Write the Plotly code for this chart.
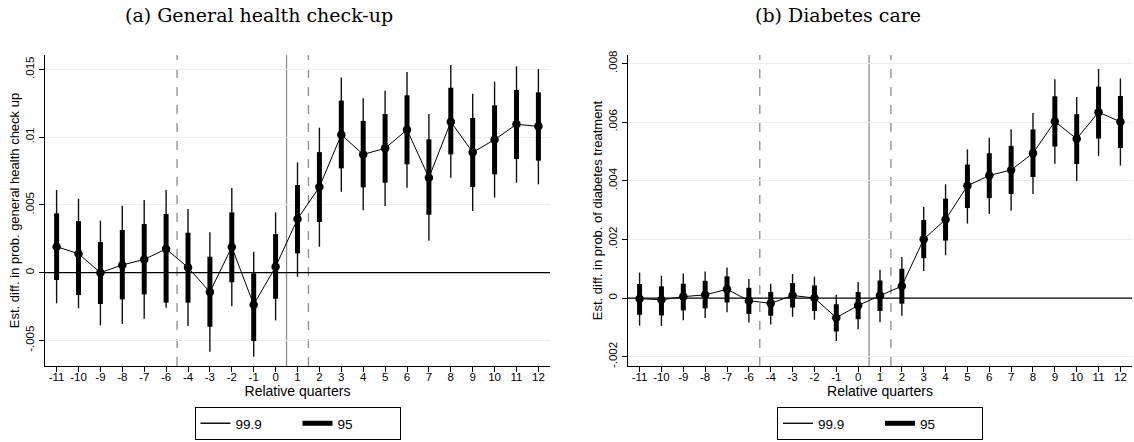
import plotly.graph_objects as go

# ---------------- data ----------------
quarters = [-11, -10, -9, -8, -7, -6, -4, -3, -2, -1, 0, 1, 2, 3, 4, 5, 6, 7, 8, 9, 10, 11, 12]
quarter_labels = [str(q) for q in quarters]

# (a) General health check-up
a_est = [0.00192, 0.00140, 0.00000, 0.00057, 0.00098, 0.00175, 0.00039, -0.00143, 0.00189, -0.00236, 0.00044,
         0.00396, 0.00632, 0.01018, 0.00873, 0.00918, 0.01055, 0.00701, 0.01114, 0.00888, 0.00982, 0.01095, 0.01080]
a_lo95 = [-0.00054, -0.00165, -0.00231, -0.00197, -0.00160, -0.00221, -0.00221, -0.00399, -0.00071, -0.00504, -0.00192,
          0.00143, 0.00374, 0.00770, 0.00630, 0.00664, 0.00800, 0.00428, 0.00873, 0.00632, 0.00726, 0.00839, 0.00827]
a_hi95 = [0.00438, 0.00381, 0.00226, 0.00315, 0.00359, 0.00433, 0.00295, 0.00118, 0.00445, -0.00005, 0.00285,
          0.00647, 0.00890, 0.01270, 0.01120, 0.01171, 0.01309, 0.00984, 0.01365, 0.01141, 0.01235, 0.01348, 0.01331]
a_lo999 = [-0.00226, -0.00263, -0.00389, -0.00379, -0.00340, -0.00258, -0.00394, -0.00583, -0.00248, -0.00620, -0.00352,
           -0.00030, 0.00192, 0.00598, 0.00460, 0.00492, 0.00627, 0.00236, 0.00701, 0.00455, 0.00554, 0.00664, 0.00652]
a_hi999 = [0.00610, 0.00546, 0.00384, 0.00494, 0.00536, 0.00610, 0.00470, 0.00298, 0.00625, 0.00155, 0.00445,
           0.00814, 0.01070, 0.01440, 0.01287, 0.01343, 0.01481, 0.01171, 0.01533, 0.01321, 0.01410, 0.01523, 0.01503]

# (b) Diabetes care
b_est = [-0.00002, -0.00006, 0.00005, 0.00011, 0.00030, -0.00009, -0.00018, 0.00009, 0.00000, -0.00067, -0.00025,
         0.00009, 0.00041, 0.00201, 0.00268, 0.00383, 0.00418, 0.00437, 0.00494, 0.00602, 0.00543, 0.00634, 0.00601]
b_lo95 = [-0.00057, -0.00059, -0.00042, -0.00035, -0.00015, -0.00054, -0.00060, -0.00032, -0.00044, -0.00114, -0.00072,
          -0.00044, -0.00019, 0.00136, 0.00196, 0.00307, 0.00341, 0.00355, 0.00413, 0.00517, 0.00457, 0.00544, 0.00512]
b_hi95 = [0.00048, 0.00040, 0.00049, 0.00059, 0.00074, 0.00035, 0.00021, 0.00051, 0.00043, -0.00021, 0.00021,
          0.00060, 0.00100, 0.00266, 0.00339, 0.00455, 0.00494, 0.00519, 0.00575, 0.00688, 0.00627, 0.00721, 0.00689]
b_lo999 = [-0.00094, -0.00095, -0.00076, -0.00068, -0.00048, -0.00083, -0.00090, -0.00064, -0.00074, -0.00146, -0.00106,
           -0.00082, -0.00060, 0.00092, 0.00146, 0.00254, 0.00287, 0.00298, 0.00355, 0.00458, 0.00399, 0.00485, 0.00452]
b_hi999 = [0.00087, 0.00076, 0.00084, 0.00091, 0.00104, 0.00065, 0.00049, 0.00082, 0.00073, 0.00011, 0.00055,
           0.00097, 0.00140, 0.00311, 0.00388, 0.00507, 0.00547, 0.00576, 0.00631, 0.00746, 0.00686, 0.00781, 0.00749]

a_yticks = [-0.005, 0, 0.005, 0.01, 0.015]
a_yticktext = ["-.005", "0", ".005", ".01", ".015"]
b_yticks = [-0.002, 0, 0.002, 0.004, 0.006, 0.008]
b_yticktext = ["-.002", "0", ".002", ".004", ".006", ".008"]

titles = ["(a) General health check-up", "(b) Diabetes care"]
ytitles = ["Est. diff. in prob. general health check up", "Est. diff. in prob. of diabetes treatment"]
xtitle = "Relative quarters"
ci_names = ["99.9", "95"]

# ---------------- style ----------------
W, H = 1134, 442
SANS = "Liberation Sans, Arial, sans-serif"
SERIF = "DejaVu Serif, serif"
GRID = "#e6eef1"


def segs(lo, hi):
    xs, ys = [], []
    for lab, l, h in zip(quarter_labels, lo, hi):
        xs += [lab, lab, None]
        ys += [l, h, None]
    return xs, ys


fig = go.Figure()
panels = [
    (a_est, a_lo95, a_hi95, a_lo999, a_hi999, "x", "y", "legend"),
    (b_est, b_lo95, b_hi95, b_lo999, b_hi999, "x2", "y2", "legend2"),
]
for est, lo95, hi95, lo999, hi999, xa, ya, lg in panels:
    xs, ys = segs(lo999, hi999)
    fig.add_trace(go.Scatter(x=xs, y=ys, mode="lines", name=ci_names[0],
                             line=dict(color="#111111", width=1.4), xaxis=xa, yaxis=ya,
                             legend=lg, showlegend=True, hoverinfo="skip"))
    xs, ys = segs(lo95, hi95)
    fig.add_trace(go.Scatter(x=xs, y=ys, mode="lines", name=ci_names[1],
                             line=dict(color="black", width=5), xaxis=xa, yaxis=ya,
                             legend=lg, showlegend=True, hoverinfo="skip"))
    fig.add_trace(go.Scatter(x=quarter_labels, y=est, mode="lines+markers",
                             line=dict(color="black", width=1),
                             marker=dict(color="black", size=8.5), xaxis=xa, yaxis=ya,
                             showlegend=False))

# plot-area geometry (pixels)
xdomA = [45 / W, 550 / W]
xdomB = [628 / W, 1132 / W]
ydom = [(H - 366) / H, (H - 55) / H]

common_x = dict(type="category", categoryorder="array", categoryarray=quarter_labels,
                showline=True, linecolor="black", linewidth=1, ticks="outside", ticklen=5,
                tickcolor="black", showgrid=False, zeroline=False, range=[-0.53, 22.53],
                automargin=False, ticklabelstandoff=-5,
                tickfont=dict(family=SANS, size=11.5, color="black"),
                title=dict(text=xtitle, font=dict(family=SANS, size=14, color="black"), standoff=0))
common_y = dict(showline=True, linecolor="black", linewidth=1, ticks="outside", ticklen=5,
                tickcolor="black", showgrid=True, gridcolor=GRID, gridwidth=1, zeroline=False,
                automargin=False,
                tickangle=-90, tickfont=dict(family=SANS, size=11.5, color="black"))

legend_common = dict(orientation="h", y=2 / H, yanchor="bottom", bordercolor="black", borderwidth=1,
                     font=dict(family=SANS, size=13.5, color="black"), entrywidth=57,
                     bgcolor="white", itemwidth=30, tracegroupgap=0)

fig.update_layout(
    width=W, height=H, margin=dict(l=0, r=0, t=0, b=0, autoexpand=False),
    paper_bgcolor="white", plot_bgcolor="white",
    xaxis=dict(domain=xdomA, anchor="y", **common_x),
    xaxis2=dict(domain=xdomB, anchor="y2", **common_x),
    yaxis=dict(domain=ydom, anchor="x", range=[-0.006886, 0.016066],
               tickvals=a_yticks, ticktext=a_yticktext,
               title=dict(text=ytitles[0], font=dict(family=SANS, size=13, color="black"), standoff=1),
               **common_y),
    yaxis2=dict(domain=ydom, anchor="x2", range=[-0.002316, 0.008289],
                tickvals=b_yticks, ticktext=b_yticktext,
                title=dict(text=ytitles[1], font=dict(family=SANS, size=13, color="black"), standoff=1),
                **common_y),
    legend=dict(x=(xdomA[0] + xdomA[1]) / 2, xanchor="center", **legend_common),
    legend2=dict(x=(xdomB[0] + xdomB[1]) / 2, xanchor="center", **legend_common),
    showlegend=True,
)

# reference lines
event_lines = [(5.5, "dash"), (10.5, "solid"), (11.5, "dash")]
shapes = []
for xa, ya in [("x", "y"), ("x2", "y2")]:
    for xv, dash in event_lines:
        shapes.append(dict(type="line", xref=xa, x0=xv, x1=xv, yref=f"{ya} domain", y0=0, y1=1,
                           line=dict(color="#8c8c8c", width=1.3, dash="dash" if dash == "dash" else "solid"),
                           layer="below"))
    shapes.append(dict(type="line", xref=f"{xa} domain", x0=0, x1=1, yref=ya, y0=0, y1=0,
                       line=dict(color="black", width=1.2), layer="above"))
fig.update_layout(shapes=shapes)

# panel titles
for title, xc in zip(titles, [259 / W, 838 / W]):
    fig.add_annotation(text=title, x=xc, xref="paper", y=1 - 15 / H, yref="paper",
                       xanchor="center", yanchor="middle", showarrow=False,
                       font=dict(family=SERIF, size=19, color="black"))

fig.write_html("out.html", config={"displayModeBar": False},
               post_script="document.body.style.margin='0';document.body.style.overflow='hidden';")
